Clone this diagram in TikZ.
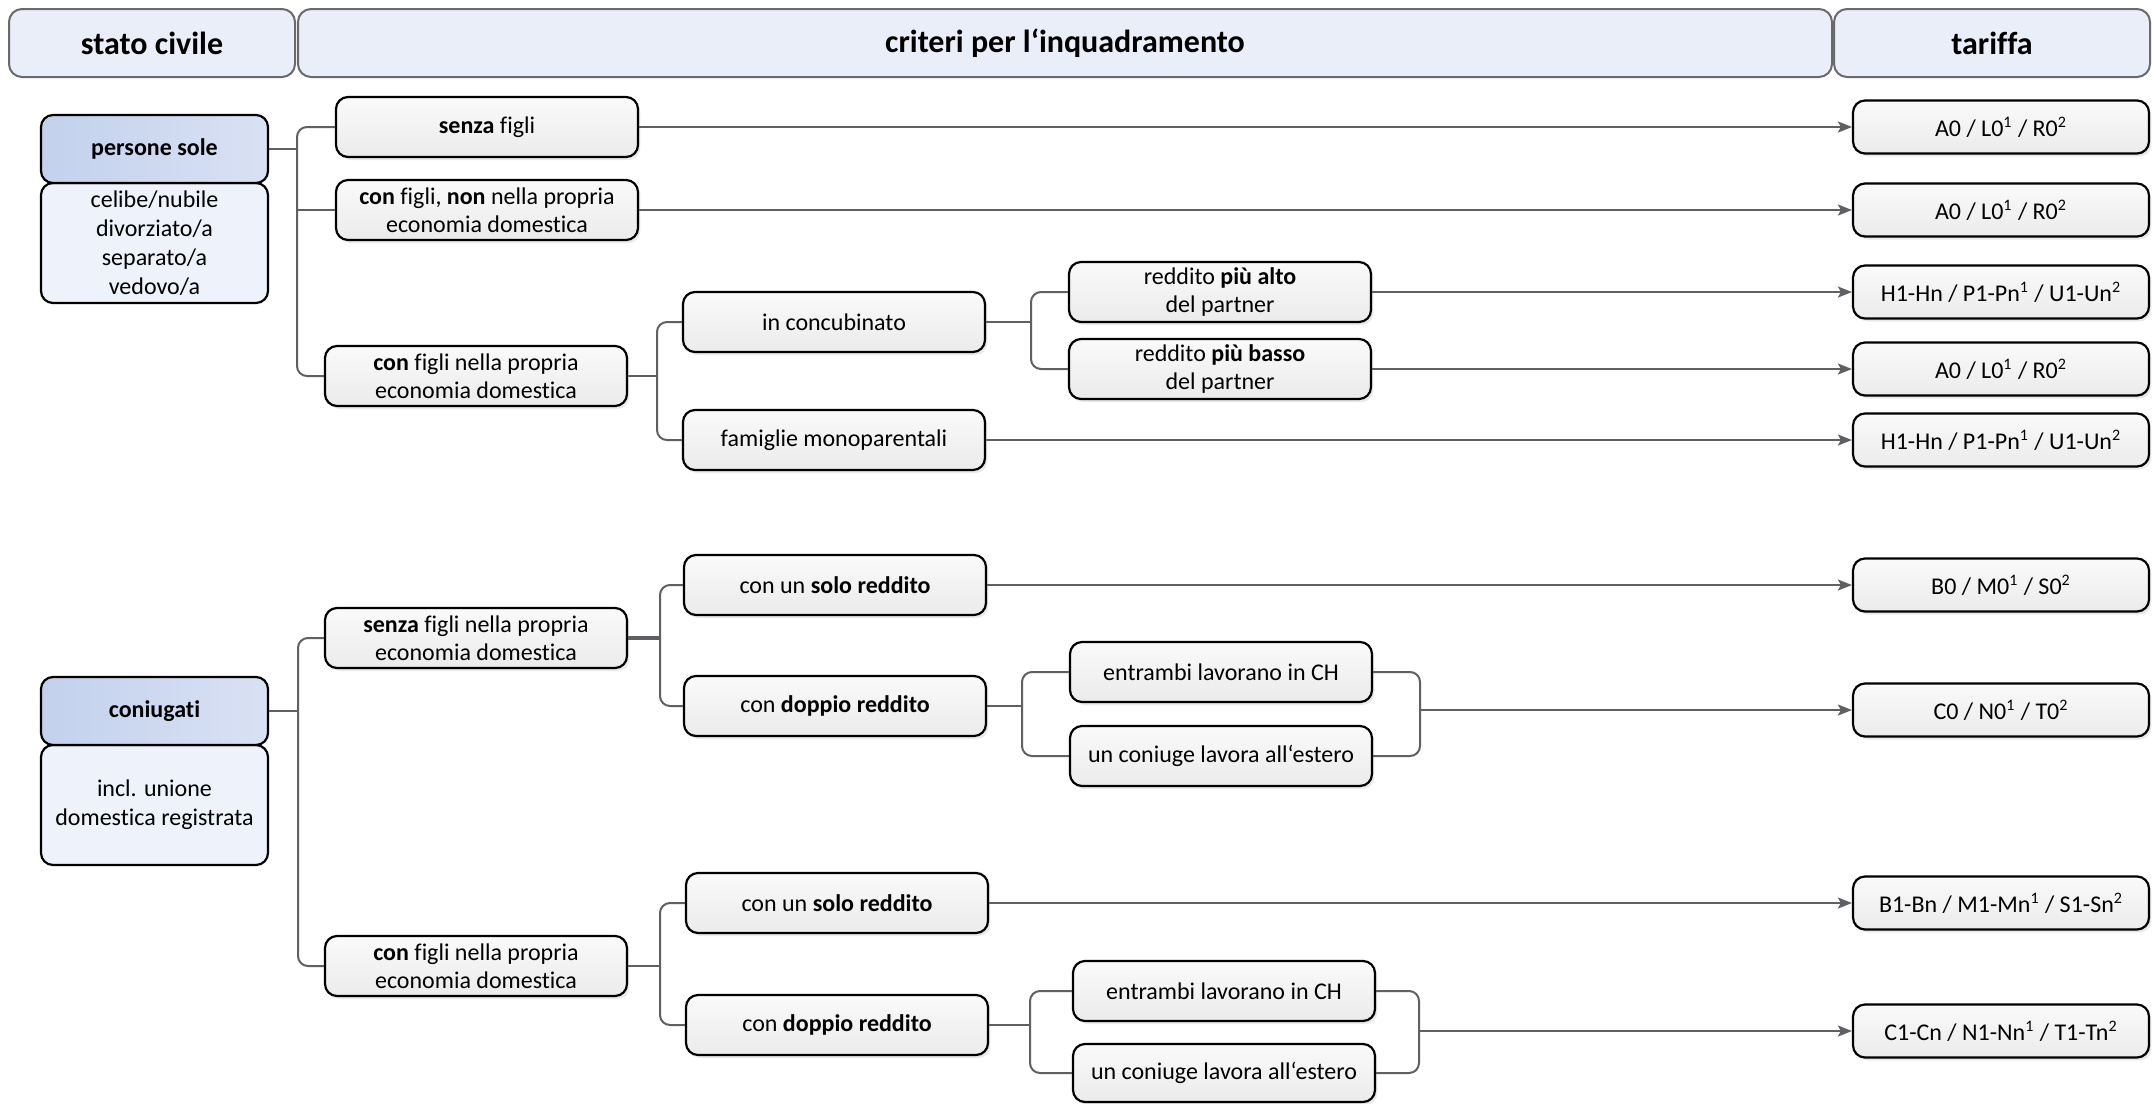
\documentclass[tikz,border=0pt]{standalone}
\usepackage{fontspec}
\setmainfont{Carlito}[Ligatures=NoCommon]
\usetikzlibrary{arrows.meta,shadows}

\definecolor{linecol}{RGB}{95,95,100}
\definecolor{hdrfill}{RGB}{233,238,248}
\definecolor{hdrdraw}{RGB}{105,105,110}
\definecolor{blueL}{RGB}{195,209,237}
\definecolor{blueR}{RGB}{217,225,244}
\definecolor{paleblue}{RGB}{238,242,250}
\definecolor{boxtop}{RGB}{250,250,250}
\definecolor{boxbot}{RGB}{235,235,235}

\begin{document}
\begin{tikzpicture}[x=0.5pt,y=-0.5pt,
  hdr/.style={draw=hdrdraw, line width=1pt, fill=hdrfill, rounded corners=6.5pt,
    font=\fontsize{16}{19}\selectfont\bfseries, minimum height=34pt, inner sep=0pt},
  bluehd/.style={draw=black, line width=1.1pt, rounded corners=6pt, left color=blueL, right color=blueR,
    font=\fontsize{12}{14}\selectfont\bfseries, minimum width=113.5pt, minimum height=34pt, inner sep=0pt},
  desc/.style={draw=black, line width=1.1pt, rounded corners=6pt, fill=paleblue, align=center,
    font=\fontsize{12}{14.4}\selectfont, minimum width=113.5pt, minimum height=60pt, inner sep=0pt},
  box/.style={draw=black, line width=1.1pt, rounded corners=6pt, top color=boxtop, bottom color=boxbot,
    align=center, inner sep=0pt, font=\fontsize{12}{13.8}\selectfont, minimum width=151pt, minimum height=30pt,
    drop shadow={shadow xshift=1.2pt, shadow yshift=-1.5pt, opacity=0.16}},
  tar/.style={box, minimum width=148pt, minimum height=26.5pt},
  conn/.style={draw=linecol, line width=1pt, rounded corners=5pt},
  arr/.style={draw=linecol, line width=1pt, -{Stealth[length=7pt, width=5.5pt, inset=1.5pt]}}
]
\fill[white] (0,0) rectangle (2152,1103);
\useasboundingbox (0,0) rectangle (2152,1103);

% headers
\node[hdr, minimum width=143pt] (h1) at (152,43) {stato civile};
\node[hdr, minimum width=767pt] (h2) at (1065,43) {criteri per l‘inquadramento};
\node[hdr, minimum width=158pt] (h3) at (1992,43) {tariffa};

% left column
\node[desc] (psd) at (154.5,243) {celibe/nubile\\divorziato/a\\separato/a\\vedovo/a};
\node[bluehd] (ps) at (154.5,149) {persone sole};
\node[desc] (cgd) at (154.5,805) {incl. unione\\domestica registrata};
\node[bluehd] (cg) at (154.5,711) {coniugati};

% level 2
\node[box] (sf) at (487,127) {\textbf{senza} figli};
\node[box] (cfn) at (487,210) {\textbf{con} figli, \textbf{non} nella propria\\economia domestica};
\node[box] (cfp) at (476,376) {\textbf{con} figli nella propria\\economia domestica};
\node[box] (sfc) at (476,638) {\textbf{senza} figli nella propria\\economia domestica};
\node[box] (cfc) at (476,966) {\textbf{con} figli nella propria\\economia domestica};

% level 3
\node[box] (conc) at (834,322) {in concubinato};
\node[box] (mono) at (834,440) {famiglie monoparentali};
\node[box] (solo1) at (835,585) {con un \textbf{solo reddito}};
\node[box] (dop1) at (835,706) {con \textbf{doppio reddito}};
\node[box] (solo2) at (837,903) {con un \textbf{solo reddito}};
\node[box] (dop2) at (837,1025) {con \textbf{doppio reddito}};

% level 4
\node[box] (alto) at (1220,292) {reddito \textbf{più alto}\\del partner};
\node[box] (basso) at (1220,369) {reddito \textbf{più basso}\\del partner};
\node[box] (ent1) at (1221,672) {entrambi lavorano in CH};
\node[box] (est1) at (1221,756) {un coniuge lavora all‘estero};
\node[box] (ent2) at (1224,991) {entrambi lavorano in CH};
\node[box, minimum height=29pt] (est2) at (1224,1073) {un coniuge lavora all‘estero};

% tariffs
\node[tar] (t1) at (2001,127) {A0 / L0\textsuperscript{1} / R0\textsuperscript{2}};
\node[tar] (t2) at (2001,210) {A0 / L0\textsuperscript{1} / R0\textsuperscript{2}};
\node[tar] (t3) at (2001,292) {H1-Hn / P1-Pn\textsuperscript{1} / U1-Un\textsuperscript{2}};
\node[tar] (t4) at (2001,369) {A0 / L0\textsuperscript{1} / R0\textsuperscript{2}};
\node[tar] (t5) at (2001,440) {H1-Hn / P1-Pn\textsuperscript{1} / U1-Un\textsuperscript{2}};
\node[tar] (t6) at (2001,585) {B0 / M0\textsuperscript{1} / S0\textsuperscript{2}};
\node[tar] (t7) at (2001,710) {C0 / N0\textsuperscript{1} / T0\textsuperscript{2}};
\node[tar] (t8) at (2001,903) {B1-Bn / M1-Mn\textsuperscript{1} / S1-Sn\textsuperscript{2}};
\node[tar] (t9) at (2001,1031) {C1-Cn / N1-Nn\textsuperscript{1} / T1-Tn\textsuperscript{2}};

% fork coordinates
\coordinate (tA) at (297,0);
\coordinate (tB) at (298,0);
\coordinate (fC) at (657,0);
\coordinate (fD) at (1031,0);
\coordinate (fE) at (660,0);
\coordinate (fF) at (1022,0);
\coordinate (mG) at (1420,710);
\coordinate (fH) at (660,0);
\coordinate (fI) at (1030,0);
\coordinate (mJ) at (1419,1031);

% persone sole tree
\draw[conn] (ps.east) -- (ps.east -| tA);
\draw[conn] (sf.west) -- (sf.west -| tA) -- (tA |- cfp.west) -- (cfp.west);
\draw[conn] (cfn.west) -- (cfn.west -| tA);
\draw[conn] (cfp.east) -- (cfp.east -| fC);
\draw[conn] (conc.west) -- (conc.west -| fC) -- (fC |- mono.west) -- (mono.west);
\draw[conn] (conc.east) -- (conc.east -| fD);
\draw[conn] (alto.west) -- (alto.west -| fD) -- (fD |- basso.west) -- (basso.west);

% coniugati tree
\draw[conn] (cg.east) -- (cg.east -| tB);
\draw[conn] (sfc.west) -- (sfc.west -| tB) -- (tB |- cfc.west) -- (cfc.west);
\draw[conn, line width=1.8pt] (sfc.east) -- (sfc.east -| fE);
\draw[conn] (solo1.west) -- (solo1.west -| fE) -- (fE |- dop1.west) -- (dop1.west);
\draw[conn] (dop1.east) -- (dop1.east -| fF);
\draw[conn] (ent1.west) -- (ent1.west -| fF) -- (fF |- est1.west) -- (est1.west);
\draw[conn] (ent1.east) -- (ent1.east -| mG) -- (mG |- est1.east) -- (est1.east);
\draw[conn] (cfc.east) -- (cfc.east -| fH);
\draw[conn] (solo2.west) -- (solo2.west -| fH) -- (fH |- dop2.west) -- (dop2.west);
\draw[conn] (dop2.east) -- (dop2.east -| fI);
\draw[conn] (ent2.west) -- (ent2.west -| fI) -- (fI |- est2.west) -- (est2.west);
\draw[conn] (ent2.east) -- (ent2.east -| mJ) -- (mJ |- est2.east) -- (est2.east);

% arrows to tariffs
\draw[arr] (sf.east) -- (t1.west);
\draw[arr] (cfn.east) -- (t2.west);
\draw[arr] (alto.east) -- (t3.west);
\draw[arr] (basso.east) -- (t4.west);
\draw[arr] (mono.east) -- (t5.west);
\draw[arr] (solo1.east) -- (t6.west);
\draw[arr] (mG) -- (t7.west);
\draw[arr] (solo2.east) -- (t8.west);
\draw[arr] (mJ) -- (t9.west);
\end{tikzpicture}
\end{document}
